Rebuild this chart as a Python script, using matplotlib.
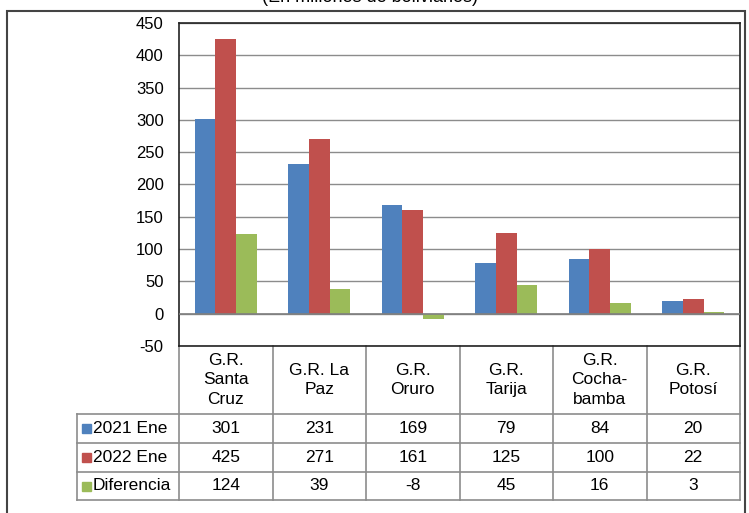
import matplotlib.pyplot as plt
import matplotlib.transforms as mtransforms
from matplotlib.patches import Rectangle
import numpy as np

plt.rcParams['font.family'] = ['Liberation Sans', 'DejaVu Sans']
plt.rcParams['axes.unicode_minus'] = False

# data
categories = ["G.R.\nSanta\nCruz", "G.R. La\nPaz", "G.R.\nOruro", "G.R.\nTarija",
              "G.R.\nCocha-\nbamba", "G.R.\nPotosí"]
series_names = ["2021 Ene", "2022 Ene", "Diferencia"]
ene_2021 = [301, 231, 169, 79, 84, 20]
ene_2022 = [425, 271, 161, 125, 100, 22]
diferencia = [124, 39, -8, 45, 16, 3]
colors = ["#4F81BD", "#C0504D", "#9BBB59"]

W, H = 749, 513
fig = plt.figure(figsize=(W / 100, H / 100), dpi=100)

def fy(p):
    return 1 - p / H

# plot area
ax = fig.add_axes([179 / W, fy(346), (740 - 179) / W, (346 - 23) / H])
x = np.arange(len(categories))
bw = 0.22
for k, vals in enumerate([ene_2021, ene_2022, diferencia]):
    ax.bar(x + (k - 1) * bw, vals, bw, color=colors[k], zorder=3)

ax.set_xlim(-0.5, len(categories) - 0.5)
ax.set_ylim(-50, 450)
ax.set_yticks(range(-50, 451, 50))
ax.yaxis.grid(True, color="#8c8c8c", lw=1, zorder=0)
ax.axhline(0, color="#7f7f7f", lw=1.2, zorder=4)
ax.set_xticks([])
ax.tick_params(axis="y", length=0, labelsize=12, pad=11)
for s in ax.spines.values():
    s.set_color("#222222")
    s.set_linewidth(1.2)

# data table under the plot
tr = mtransforms.blended_transform_factory(ax.transData, fig.transFigure)
grid_c = "#8c8c8c"
left = -0.5 - (179 - 77) / ((740 - 179) / len(categories))
right = len(categories) - 0.5
rows = [414, 443, 472, 500]
fs = 12.5

def hline(yp, x0, x1):
    ax.plot([x0, x1], [fy(yp), fy(yp)], transform=tr, color=grid_c, lw=1.2, clip_on=False)

def vline(xd, y0, y1):
    ax.plot([xd, xd], [fy(y0), fy(y1)], transform=tr, color=grid_c, lw=1.2, clip_on=False)

for yp in rows:
    hline(yp, left, right)
for i in range(len(categories) + 1):
    vline(i - 0.5, 346, 500)
vline(left, 414, 500)

for i, c in enumerate(categories):
    ax.text(i, fy(380), c, transform=tr, ha="center", va="center", fontsize=fs,
            linespacing=1.4, multialignment="center")

for r, (name, vals) in enumerate(zip(series_names, [ene_2021, ene_2022, diferencia])):
    ymid = fy((rows[r] + rows[r + 1]) / 2)
    for i, v in enumerate(vals):
        ax.text(i, ymid, str(v), transform=tr, ha="center", va="center", fontsize=fs)
    fig.add_artist(Rectangle((82 / W, ymid - 4.5 / H), 9 / W, 9 / H,
                             transform=fig.transFigure, color=colors[r]))
    fig.text(93 / W, ymid, name, ha="left", va="center", fontsize=fs)

# outer frame and cut-off title
fig.add_artist(Rectangle((7 / W, -0.05), (745 - 7) / W, fy(11) + 0.05,
                         transform=fig.transFigure, fill=False, edgecolor="#444444", lw=1.5))
fig.text(370 / W, 1.004, "(En millones de bolivianos)", ha="center", va="center", fontsize=13)

fig.savefig("out.png", dpi=100)
